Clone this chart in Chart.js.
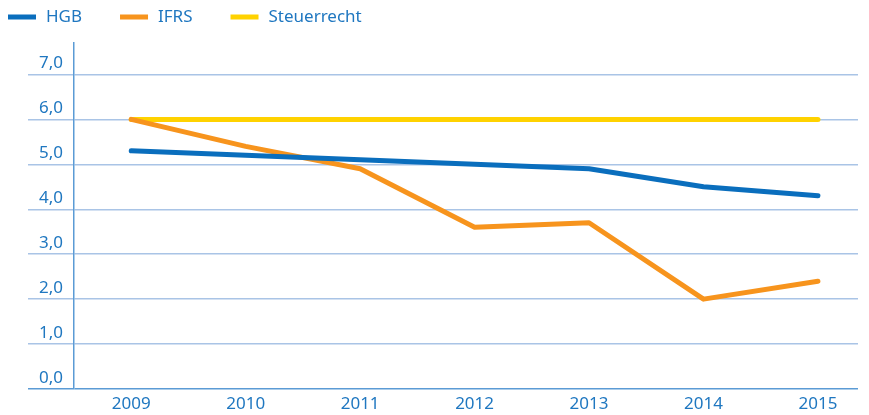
<!DOCTYPE html>
<html>
<head>
<meta charset="utf-8">
<script src="https://cdn.jsdelivr.net/npm/chart.js@4"></script>
<style>
  html, body { margin: 0; padding: 0; background: #fff; }
  #wrap { width: 869px; height: 415px; }
</style>
</head>
<body>
<div id="wrap"><canvas id="chart" width="869" height="415"></canvas></div>
<script>
'use strict';

// ── Data ───────────────────────────────────────────────────────────────────
const YEARS = [2009, 2010, 2011, 2012, 2013, 2014, 2015];
const HGB = [5.3, 5.2, 5.1, 5.0, 4.9, 4.5, 4.3];
const IFRS = [6.0, 5.4, 4.9, 3.6, 3.7, 2.0, 2.4];
const STEUERRECHT = [6.0, 6.0, 6.0, 6.0, 6.0, 6.0, 6.0];
const Y_TICKS = [0, 1, 2, 3, 4, 5, 6, 7];

const TEXT_BLUE = '#1f77c0';
const GRID_BLUE = '#a9c4e6';
const AXIS_BLUE = '#5b9bd5';
const FONT = { family: 'Noto Sans', size: 17 };

const points = vals => YEARS.map((x, i) => ({ x: x, y: vals[i] }));

function lineSet(label, vals, color) {
    return {
        label: label,
        data: points(vals),
        borderColor: color,
        backgroundColor: color,
        borderWidth: 5,
        borderCapStyle: 'round',
        borderJoinStyle: 'round',
        pointRadius: 0,
        tension: 0,
    };
}

// simple legend drawn on canvas: short thick bar + label, left aligned
const legendPlugin = {
    id: 'barLegend',
    afterDraw(chart) {
        const ctx = chart.ctx;
        let x = 8;
        const y = 17;
        ctx.save();
        ctx.font = FONT.size + 'px ' + FONT.family;
        ctx.textBaseline = 'middle';
        chart.data.datasets.forEach(ds => {
            ctx.fillStyle = ds.borderColor;
            ctx.fillRect(x, y - 2.5, 28, 5);
            x += 38;
            ctx.fillStyle = TEXT_BLUE;
            ctx.fillText(ds.label, x, y);
            x += ctx.measureText(ds.label).width + 38;
        });
        ctx.restore();
    },
};

new Chart(document.getElementById('chart'), {
    type: 'line',
    data: {
        datasets: [
            lineSet('HGB', HGB, '#0a6ebd'),
            lineSet('IFRS', IFRS, '#f7941d'),
            lineSet('Steuerrecht', STEUERRECHT, '#ffd200'),
        ],
    },
    plugins: [legendPlugin],
    options: {
        responsive: false,
        animation: false,
        layout: { padding: { top: 43, right: 11, left: 0, bottom: 0 } },
        plugins: { legend: { display: false }, tooltip: { enabled: false } },
        scales: {
            x: {
                type: 'linear',
                min: 2008.5,
                max: 2015.35,
                afterBuildTicks: s => { s.ticks = YEARS.map(v => ({ value: v })); },
                afterFit: s => { s.height = 26; },
                grid: { display: false, drawTicks: false },
                border: { display: false },
                ticks: {
                    padding: 5,
                    color: TEXT_BLUE,
                    font: FONT,
                    callback: v => String(v),
                },
            },
            y: {
                min: 0,
                max: 7.7,
                afterBuildTicks: s => { s.ticks = Y_TICKS.map(v => ({ value: v })); },
                afterFit: s => { s.width = 74; },
                grid: {
                    color: c => (c.tick && c.tick.value === 0 ? AXIS_BLUE : GRID_BLUE),
                    lineWidth: 1.5,
                    tickLength: 46,
                },
                border: { display: true, color: AXIS_BLUE, width: 1.5 },
                ticks: {
                    padding: -35,
                    labelOffset: -11,
                    color: TEXT_BLUE,
                    font: FONT,
                    callback: v => v.toFixed(1).replace('.', ','),
                },
            },
        },
    },
});
</script>
</body>
</html>
